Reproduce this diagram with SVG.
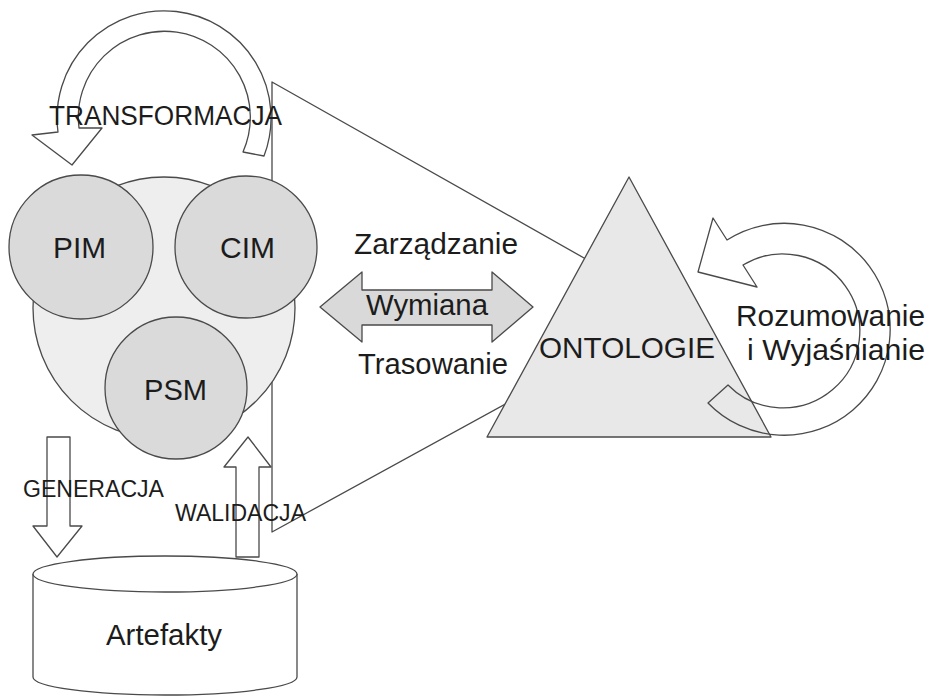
<svg xmlns="http://www.w3.org/2000/svg" width="930" height="697" viewBox="0 0 930 697">
<style>
.ln{stroke:#4a4a4a;stroke-width:1.3;stroke-linejoin:round}
.t{font-family:"Liberation Sans",Arial,sans-serif;fill:#1c1c1c}
.m{font-size:29px}
.s{font-size:23px}
.c{fill:#dadada}
</style>
<rect width="930" height="697" fill="#ffffff"/>
<g id="scope">
<polygon class="ln" points="272,82 600,267 520,396 272,532" fill="#ffffff"/>
</g>
<g id="ontologie">
<polygon class="ln" points="629,177 487,437 771,437" fill="#e8e8e8"/>
<text class="t m" x="539" y="358" textLength="176" lengthAdjust="spacingAndGlyphs">ONTOLOGIE</text>
</g>
<g id="models">
<circle class="ln" cx="164" cy="308" r="131" fill="#eeeeee"/>
<g id="pim">
<circle class="ln c" cx="81" cy="247" r="72"/>
<text class="t" font-size="30" x="53" y="258" textLength="53" lengthAdjust="spacingAndGlyphs">PIM</text>
</g>
<g id="cim">
<circle class="ln c" cx="246" cy="247" r="71"/>
<text class="t" font-size="30" x="220" y="258" textLength="55" lengthAdjust="spacingAndGlyphs">CIM</text>
</g>
<g id="psm">
<circle class="ln c" cx="176" cy="388" r="71"/>
<text class="t" font-size="30" x="144" y="400" textLength="63" lengthAdjust="spacingAndGlyphs">PSM</text>
</g>
</g>
<g id="artefakty">
<path class="ln" d="M33,574 L33,677 A132,18 0 0 0 297,677 L297,574" fill="#ffffff"/>
<ellipse class="ln" cx="165" cy="574" rx="132" ry="18" fill="#ffffff"/>
<text class="t" font-size="30" x="106" y="645" textLength="116" lengthAdjust="spacingAndGlyphs">Artefakty</text>
</g>
<g id="connectors">
<path id="transformacja-arrow" class="ln" fill="none" d="M264,156 A107,107 0 1 0 58,132 L32,135 L72,165 L102,128 L79,128 A86,86 0 1 1 243,152 Z"/>
<path id="rozumowanie-arrow" class="ln" fill="none" d="M708,403 A106,106 0 1 0 727,240 L713,218 L698,272 L757,287 L743,265 A77,77 0 1 1 728,385 Z"/>
<polygon id="wymiana-arrow" class="ln" fill="#d9d9d9" points="320,307 362,272 362,290 492,290 492,272 533,307 492,342 492,325 362,325 362,342"/>
<polygon id="generacja-arrow" class="ln" fill="#ffffff" points="47,437 70,437 70,526 82,526 57,557 33,526 47,526"/>
<polygon id="walidacja-arrow" class="ln" fill="#ffffff" points="236,557 259,557 259,467 271,467 248,437 224,467 236,467"/>
</g>
<g id="labels">
<text class="t" font-size="27" x="49" y="125" textLength="233" lengthAdjust="spacingAndGlyphs">TRANSFORMACJA</text>
<text class="t s" x="23" y="497" textLength="141" lengthAdjust="spacingAndGlyphs">GENERACJA</text>
<text class="t s" x="175" y="521" textLength="131" lengthAdjust="spacingAndGlyphs">WALIDACJA</text>
<text class="t m" x="354" y="254" textLength="164" lengthAdjust="spacingAndGlyphs">Zarządzanie</text>
<text class="t m" x="366" y="315" textLength="122" lengthAdjust="spacingAndGlyphs">Wymiana</text>
<text class="t m" x="358" y="374" textLength="150" lengthAdjust="spacingAndGlyphs">Trasowanie</text>
<text class="t m" x="736" y="326" textLength="189" lengthAdjust="spacingAndGlyphs">Rozumowanie</text>
<text class="t m" x="747" y="360" textLength="178" lengthAdjust="spacingAndGlyphs">i Wyjaśnianie</text>
</g>
</svg>
